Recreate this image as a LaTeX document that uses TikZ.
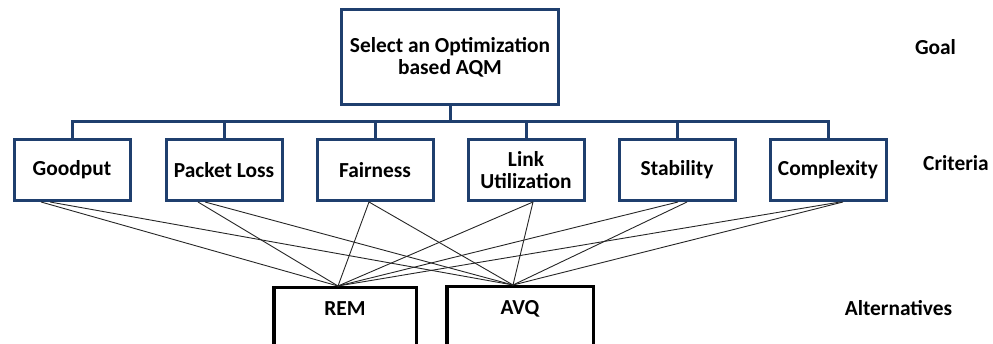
\documentclass[tikz,border=0pt]{standalone}
\usepackage{fontspec}
\setmainfont{Carlito}
\definecolor{boxblue}{RGB}{31,63,110}
\begin{document}
\begin{tikzpicture}[x=1pt,y=-1pt,
  every node/.style={font=\bfseries\fontsize{21.4}{22}\selectfont, inner sep=0pt},
  critbox/.style={draw=boxblue, line width=3pt, minimum width=116pt, minimum height=61pt, align=center},
  goalbox/.style={draw=boxblue, line width=3pt, minimum width=217pt, minimum height=95pt, align=center},
  altbox/.style={draw=black, line width=3.5pt, anchor=north, text height=28pt, text depth=62pt},
  bus/.style={draw=boxblue, line width=3pt},
  link/.style={draw=black!85, line width=0.9pt},
  lbl/.style={anchor=base}]
\useasboundingbox (0,0) rectangle (993,344);
\clip (0,0) rectangle (993,344);
% goal
\node[goalbox] (goal) at (450,57) {Select an Optimization\\based AQM};
% criteria
\node[critbox] (c1) at (72,170) {Goodput};
\node[critbox] (c2) at (224,170) {Packet Loss};
\node[critbox] (c3) at (375,170) {Fairness};
\node[critbox] (c4) at (526,170) {Link\\Utilization};
\node[critbox] (c5) at (677,170) {Stability};
\node[critbox] (c6) at (828,170) {Complexity};
% alternatives
\node[altbox, minimum width=142.5pt] (rem) at (345,286) {REM};
\node[altbox, minimum width=146.5pt] (avq) at (520,285) {AVQ};
% hierarchy bus
\coordinate (busmid) at (goal.south |- 0,122);
\draw[bus] (goal.south) -- (busmid);
\draw[bus] (c1.north) -- (c1.north |- busmid) -- (c6.north |- busmid) -- (c6.north);
\foreach \c in {c2,c3,c4,c5} \draw[bus] (\c.north) -- (\c.north |- busmid);
% convergence points
\coordinate (remp) at ([xshift=-7pt]rem.north);
\coordinate (avqp) at ([xshift=-7pt]avq.north);
% links
\draw[link] ([xshift=-31pt]c1.south) -- (remp);
\draw[link] ([xshift=-22pt]c1.south) -- (avqp);
\draw[link] ([xshift=-26pt]c2.south) -- (remp);
\draw[link] ([xshift=-19pt]c2.south) -- (avqp);
\draw[link] ([xshift=-6pt]c3.south) -- (remp);
\draw[link] ([xshift=-6pt]c3.south) -- (avqp);
\draw[link] ([xshift=7pt]c4.south) -- (remp);
\draw[link] ([xshift=7pt]c4.south) -- (avqp);
\draw[link] ([xshift=1pt]c5.south) -- (remp);
\draw[link] ([xshift=10pt]c5.south) -- (avqp);
\draw[link] ([xshift=12pt]c6.south) -- (remp);
\draw[link] ([xshift=15pt]c6.south) -- (avqp);
% level labels
\node[lbl] (lgoal) at (935.5,55) {Goal};
\node[lbl] (lcrit) at (956,171) {Criteria};
\node[lbl] (lalt) at (898.5,316) {Alternatives};
\end{tikzpicture}
\end{document}
